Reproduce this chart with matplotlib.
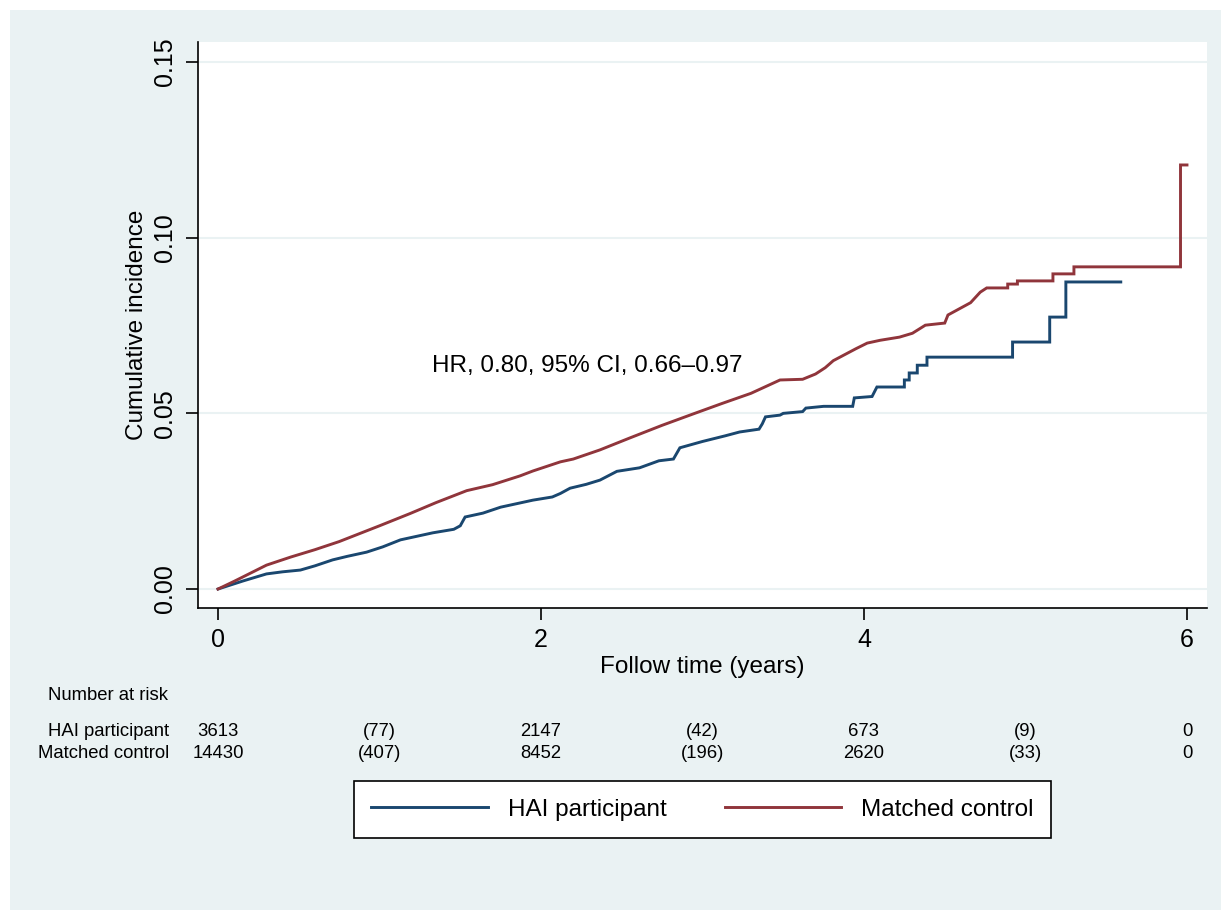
import matplotlib
matplotlib.use("Agg")
import matplotlib.pyplot as plt
from matplotlib.patches import Rectangle
from matplotlib.transforms import blended_transform_factory

plt.rcParams['font.family'] = ['Liberation Sans', 'DejaVu Sans']

# ---- data: cumulative incidence curves as traced polylines ----
hai_t = [0.00, 0.155, 0.30, 0.40, 0.51, 0.60, 0.71, 0.80, 0.92, 1.02, 1.13, 1.23, 1.33, 1.46,
         1.50, 1.53, 1.64, 1.75, 1.85, 1.95, 2.07, 2.12, 2.18, 2.28, 2.365, 2.47, 2.61, 2.73,
         2.82, 2.86, 3.00, 3.14, 3.23, 3.35, 3.37, 3.39, 3.48, 3.50, 3.62, 3.64, 3.75, 3.93,
         3.94, 4.05, 4.08, 4.25, 4.25, 4.28, 4.28, 4.33, 4.33, 4.39, 4.39, 4.92, 4.92, 5.15,
         5.15, 5.25, 5.25, 5.59]
hai_y = [0.0000, 0.0023, 0.0043, 0.0049, 0.0054, 0.0066, 0.0083, 0.0093, 0.0105, 0.0120, 0.0140,
         0.0150, 0.0160, 0.0170, 0.0180, 0.0205, 0.0216, 0.0233, 0.0243, 0.0253, 0.0262, 0.0272,
         0.0287, 0.0298, 0.0310, 0.0335, 0.0345, 0.0365, 0.0370, 0.0402, 0.0420, 0.0436, 0.0447,
         0.0455, 0.0470, 0.0490, 0.0495, 0.0500, 0.0505, 0.0515, 0.0520, 0.0520, 0.0544, 0.0548,
         0.0575, 0.0575, 0.0595, 0.0595, 0.0615, 0.0615, 0.0637, 0.0637, 0.0660, 0.0660, 0.0703,
         0.0703, 0.0774, 0.0774, 0.0874, 0.0874]

ctl_t = [0.00, 0.10, 0.20, 0.30, 0.45, 0.60, 0.75, 0.90, 1.00, 1.19, 1.35, 1.54, 1.70, 1.87,
         1.95, 2.12, 2.20, 2.365, 2.55, 2.75, 2.94, 3.12, 3.30, 3.48, 3.62, 3.70, 3.76, 3.81,
         3.95, 4.02, 4.10, 4.22, 4.30, 4.38, 4.50, 4.52, 4.60, 4.66, 4.72, 4.76, 4.89, 4.89,
         4.95, 4.95, 5.17, 5.17, 5.30, 5.30, 5.96, 5.96, 6.00]
ctl_y = [0.0000, 0.0022, 0.0045, 0.0068, 0.0091, 0.0112, 0.0135, 0.0162, 0.0180, 0.0215, 0.0246,
         0.0280, 0.0297, 0.0322, 0.0336, 0.0362, 0.0370, 0.0396, 0.0430, 0.0466, 0.0498, 0.0528,
         0.0557, 0.0595, 0.0597, 0.0612, 0.0630, 0.0650, 0.0684, 0.0700, 0.0708, 0.0717, 0.0728,
         0.0751, 0.0757, 0.0780, 0.0800, 0.0815, 0.0845, 0.0857, 0.0857, 0.0868, 0.0868, 0.0877,
         0.0877, 0.0897, 0.0897, 0.0917, 0.0917, 0.1207, 0.1207]

x_ticks = [0, 2, 4, 6]
y_ticks = [0.00, 0.05, 0.10, 0.15]
y_ticklabels = ["0.00", "0.05", "0.10", "0.15"]

risk_times = [0, 1, 2, 3, 4, 5, 6]
risk_hai = ["3613", "(77)", "2147", "(42)", "673", "(9)", "0"]
risk_ctl = ["14430", "(407)", "8452", "(196)", "2620", "(33)", "0"]
group_names = ["HAI participant", "Matched control"]

BLUE = "#1a476f"
RED = "#90353b"
BG = "#eaf2f3"

W, H = 1223, 910
fig = plt.figure(figsize=(W / 100, H / 100), dpi=100, facecolor="white")
fig.patches.append(Rectangle((10 / W, 0), (1221 - 10) / W, (H - 10) / H,
                             transform=fig.transFigure, facecolor=BG, edgecolor="none", zorder=-10))

ax = fig.add_axes([198 / W, 1 - 608 / H, (1207 - 198) / W, (608 - 42) / H])
ax.set_facecolor("white")
ax.set_xlim(-0.124, 6.124)
ax.set_ylim(-0.0054, 0.1557)

for yv in y_ticks:
    ax.axhline(yv, color=BG, lw=1.5, zorder=0)

ax.plot(hai_t, hai_y, color=BLUE, lw=2.1, label=group_names[0], solid_joinstyle="miter")
ax.plot(ctl_t, ctl_y, color=RED, lw=2.1, label=group_names[1], solid_joinstyle="miter")

for s in ["top", "right"]:
    ax.spines[s].set_visible(False)
for s in ["left", "bottom"]:
    ax.spines[s].set_linewidth(1.2)
    ax.spines[s].set_color("black")

ax.set_xticks(x_ticks)
ax.set_xticklabels([str(v) for v in x_ticks], fontsize=18)
ax.set_yticks(y_ticks)
ax.set_yticklabels(y_ticklabels, fontsize=18, rotation=90, va="center")
ax.tick_params(axis="both", direction="out", length=8.5, width=1.2, color="black")
ax.tick_params(axis="x", pad=6)
ax.tick_params(axis="y", pad=6.5)

ax.set_xlabel("Follow time (years)", fontsize=17.5)
ax.xaxis.set_label_coords((702 - 198) / (1207 - 198), (608 - 667) / (608 - 42))
ax.xaxis.label.set_va("center")
ax.set_ylabel("Cumulative incidence", fontsize=17.5)
ax.yaxis.set_label_coords((137 - 198) / (1207 - 198), (608 - 325) / (608 - 42))
ax.yaxis.label.set_va("center")

ax.text(2.285, 0.0635, "HR, 0.80, 95% CI, 0.66\u20130.97", fontsize=17.5, ha="center", va="center")

# ---- risk table ----
tr = blended_transform_factory(ax.transData, fig.transFigure)
fs_r = 13.3
fig.text(48 / W, 1 - 695 / H, "Number at risk", fontsize=fs_r, ha="left", va="center")
fig.text(169 / W, 1 - 732 / H, group_names[0], fontsize=fs_r, ha="right", va="center")
fig.text(169 / W, 1 - 753 / H, group_names[1], fontsize=fs_r, ha="right", va="center")
for t, a, b in zip(risk_times, risk_hai, risk_ctl):
    ax.text(t, 1 - 732 / H, a, transform=tr, fontsize=fs_r, ha="center", va="center", clip_on=False)
    ax.text(t, 1 - 753 / H, b, transform=tr, fontsize=fs_r, ha="center", va="center", clip_on=False)

# ---- legend ----
handles, labels = ax.get_legend_handles_labels()
leg = fig.legend(handles, labels, ncol=2, loc="center",
                 bbox_to_anchor=(702.5 / W, 1 - 809.5 / H),
                 fontsize=17.5, frameon=True, fancybox=False,
                 edgecolor="black", facecolor="white", framealpha=1,
                 handlelength=4.8, handletextpad=0.82, columnspacing=2.4, borderpad=0.7,
                 borderaxespad=0)
leg.get_frame().set_linewidth(1.2)

fig.savefig("out.png", dpi=100, facecolor=fig.get_facecolor())
